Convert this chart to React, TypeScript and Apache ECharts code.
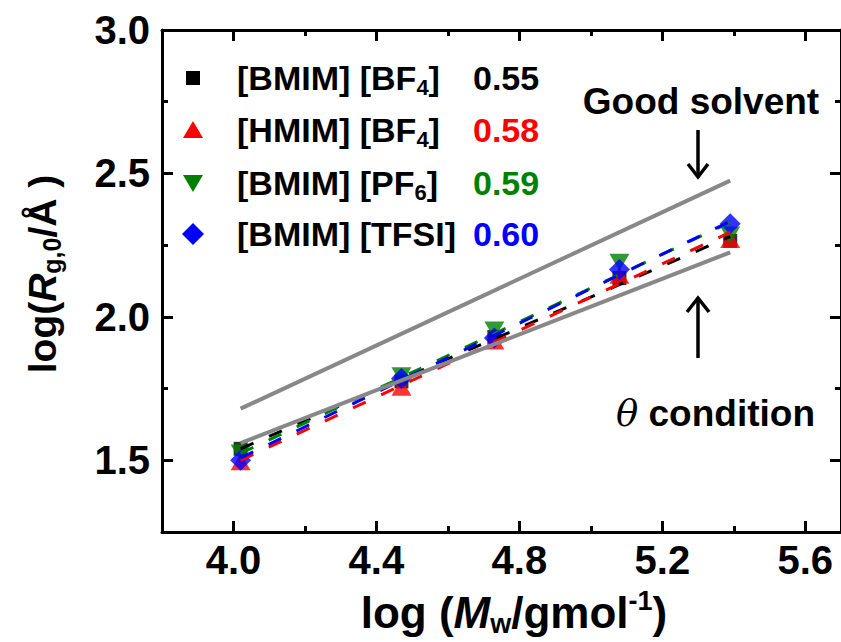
import React, { useEffect, useRef } from 'react';
import * as echarts from 'echarts';

// ---- axis ticks ----
const xMajor = [4.0, 4.4, 4.8, 5.2, 5.6];
const xMinor = [4.2, 4.6, 5.0, 5.4];
const yMajor = [1.5, 2.0, 2.5, 3.0];
const yMinor = [1.75, 2.25, 2.75];

// ---- data: log(Mw) and log(Rg,0) ----
const logMw = [4.02, 4.47, 4.73, 5.08, 5.39];
const bmimBF4 = [1.54, 1.775, 1.93, 2.135, 2.265];
const hmimBF4 = [1.495, 1.755, 1.916, 2.145, 2.27];
const bmimPF6 = [1.525, 1.795, 1.954, 2.19, 2.285];
const bmimTFSI = [1.5, 1.785, 1.926, 2.165, 2.325];

// ---- linear fits (end points) ----
const fitX = [4.02, 5.39];
const fitBMIMBF4 = [1.54, 2.28];
const fitHMIMBF4 = [1.5, 2.295];
const fitBMIMPF6 = [1.524, 2.33];
const fitBMIMTFSI = [1.508, 2.333];

// ---- reference lines ----
const refX = [4.02, 5.39];
const goodSolvent = [1.68, 2.475];
const thetaCond = [1.56, 2.225];

// ---- legend ----
const names = ['[BMIM] [BF4]', '[HMIM] [BF4]', '[BMIM] [PF6]', '[BMIM] [TFSI]'];
const exponents = ['0.55', '0.58', '0.59', '0.60'];
const colors = ['#000000', '#ff0000', '#008000', '#0000ff'];

const FONT = "'Liberation Sans', Arial, Helvetica, sans-serif";

const pairs = (xs: number[], ys: number[]) => xs.map((x, i) => [x, ys[i]]);

export default function App() {
  const ref = useRef<HTMLDivElement>(null);
  useEffect(() => {
    document.body.style.margin = '0';
    const chart = echarts.init(ref.current!, undefined, { renderer: 'svg' });
    const axisBase = (min: number, max: number) => ({
      type: 'value' as const,
      min,
      max,
      splitLine: { show: false },
    });
    const tickStyle = { color: '#000', width: 3 };
    const labelStyle = {
      color: '#000',
      fontFamily: FONT,
      fontWeight: 'bold',
      fontSize: 40,
    };
    const xAxes = [
      {
        ...axisBase(3.8, 5.7),
        position: 'bottom',
        axisLine: { show: true, onZero: false, lineStyle: tickStyle },
        axisTick: { show: true, inside: true, length: 11, customValues: xMajor, lineStyle: tickStyle },
        axisLabel: {
          show: true,
          customValues: xMajor,
          formatter: (v: number) => v.toFixed(1),
          ...labelStyle,
          margin: 8,
        },
      },
      {
        ...axisBase(3.8, 5.7),
        position: 'bottom',
        axisLine: { show: false },
        axisTick: { show: true, inside: true, length: 6, customValues: xMinor, lineStyle: tickStyle },
        axisLabel: { show: false },
      },
      {
        ...axisBase(3.8, 5.7),
        position: 'top',
        axisLine: { show: true, onZero: false, lineStyle: tickStyle },
        axisTick: { show: true, inside: true, length: 11, customValues: xMajor, lineStyle: tickStyle },
        axisLabel: { show: false },
      },
      {
        ...axisBase(3.8, 5.7),
        position: 'top',
        axisLine: { show: false },
        axisTick: { show: true, inside: true, length: 6, customValues: xMinor, lineStyle: tickStyle },
        axisLabel: { show: false },
      },
    ];
    const yAxes = [
      {
        ...axisBase(1.25, 3.0),
        position: 'left',
        axisLine: { show: true, onZero: false, lineStyle: tickStyle },
        axisTick: { show: true, inside: true, length: 11, customValues: yMajor, lineStyle: tickStyle },
        axisLabel: {
          show: true,
          customValues: yMajor,
          formatter: (v: number) => v.toFixed(1),
          ...labelStyle,
          margin: 12,
        },
      },
      {
        ...axisBase(1.25, 3.0),
        position: 'left',
        axisLine: { show: false },
        axisTick: { show: true, inside: true, length: 6, customValues: yMinor, lineStyle: tickStyle },
        axisLabel: { show: false },
      },
      {
        ...axisBase(1.25, 3.0),
        position: 'right',
        axisLine: { show: true, onZero: false, lineStyle: tickStyle },
        axisTick: { show: true, inside: true, length: 11, customValues: yMajor, lineStyle: tickStyle },
        axisLabel: { show: false },
      },
      {
        ...axisBase(1.25, 3.0),
        position: 'right',
        axisLine: { show: false },
        axisTick: { show: true, inside: true, length: 6, customValues: yMinor, lineStyle: tickStyle },
        axisLabel: { show: false },
      },
    ];

    const scatterDefs = [
      { name: names[0], data: bmimBF4, symbol: 'rect', size: [14, 14], rotate: 0 },
      { name: names[1], data: hmimBF4, symbol: 'triangle', size: [20, 17], rotate: 0 },
      { name: names[2], data: bmimPF6, symbol: 'triangle', size: [20, 17], rotate: 180 },
      { name: names[3], data: bmimTFSI, symbol: 'diamond', size: [21, 21], rotate: 0 },
    ];
    const fits = [fitBMIMBF4, fitHMIMBF4, fitBMIMPF6, fitBMIMTFSI];

    const series: any[] = [];
    scatterDefs.forEach((d, i) => {
      series.push({
        type: 'scatter',
        name: d.name,
        data: pairs(logMw, d.data),
        symbol: d.symbol,
        symbolSize: d.size,
        symbolRotate: d.rotate,
        itemStyle: { color: colors[i] },
        z: 2 + i * 0.01,
      });
    });
    fits.forEach((f, i) => {
      series.push({
        type: 'line',
        name: names[i] + ' fit',
        data: pairs(fitX, f),
        symbol: 'none',
        lineStyle: { color: colors[i], width: 3, type: [14, 17] },
        z: 3,
      });
    });
    series.push({
      type: 'line',
      name: 'Good solvent',
      data: pairs(refX, goodSolvent),
      symbol: 'none',
      lineStyle: { color: '#888888', width: 4 },
      z: 4,
    });
    series.push({
      type: 'line',
      name: 'theta condition',
      data: pairs(refX, thetaCond),
      symbol: 'none',
      lineStyle: { color: '#888888', width: 4 },
      z: 4,
    });

    const legendY = [78, 130, 183, 234];
    const subs = ['4', '4', '6', ''];
    const baseNames = ['[BMIM] [BF', '[HMIM] [BF', '[BMIM] [PF', '[BMIM] [TFSI]'];
    const richMain = {
      a: { fontFamily: FONT, fontWeight: 'bold', fontSize: 34, lineHeight: 40, fill: '#000' },
      s: { fontFamily: FONT, fontWeight: 'bold', fontSize: 22, lineHeight: 22, verticalAlign: 'bottom', fill: '#000' },
    };
    const graphic: any[] = [];
    // legend markers
    graphic.push({ type: 'rect', shape: { x: 186, y: legendY[0] - 7, width: 14, height: 14 }, style: { fill: colors[0] } });
    graphic.push({
      type: 'polygon',
      shape: { points: [[183, legendY[1] + 8], [203, legendY[1] + 8], [193, legendY[1] - 9]] },
      style: { fill: colors[1] },
    });
    graphic.push({
      type: 'polygon',
      shape: { points: [[183, legendY[2] - 8], [203, legendY[2] - 8], [193, legendY[2] + 9]] },
      style: { fill: colors[2] },
    });
    graphic.push({
      type: 'polygon',
      shape: { points: [[193, legendY[3] - 11], [204, legendY[3]], [193, legendY[3] + 11], [182, legendY[3]]] },
      style: { fill: colors[3] },
    });
    legendY.forEach((y, i) => {
      const txt = subs[i] ? `{a|${baseNames[i]}}{s|${subs[i]}}{a|]}` : `{a|${baseNames[i]}}`;
      graphic.push({
        type: 'text',
        x: 237,
        y,
        style: { text: txt, rich: richMain, textAlign: 'left', textVerticalAlign: 'middle' },
      });
      graphic.push({
        type: 'text',
        x: 473,
        y,
        style: {
          text: exponents[i],
          fill: colors[i],
          fontFamily: FONT,
          fontWeight: 'bold',
          fontSize: 34,
          textAlign: 'left',
          textVerticalAlign: 'middle',
        },
      });
    });

    // annotations
    graphic.push({
      type: 'text',
      x: 701,
      y: 101,
      style: {
        text: 'Good solvent',
        fill: '#000',
        fontFamily: FONT,
        fontWeight: 'bold',
        fontSize: 37,
        textAlign: 'center',
        textVerticalAlign: 'middle',
      },
    });
    graphic.push({ type: 'line', shape: { x1: 698, y1: 130, x2: 698, y2: 176 }, style: { stroke: '#000', lineWidth: 3.5 } });
    graphic.push({
      type: 'polyline',
      shape: { points: [[688, 164], [698, 177], [708, 164]] },
      style: { stroke: '#000', lineWidth: 3.5, fill: null },
    });
    graphic.push({ type: 'line', shape: { x1: 698, y1: 300, x2: 698, y2: 358 }, style: { stroke: '#000', lineWidth: 3.5 } });
    graphic.push({
      type: 'polyline',
      shape: { points: [[687, 312], [698, 298], [709, 312]] },
      style: { stroke: '#000', lineWidth: 3.5, fill: null },
    });
    graphic.push({
      type: 'text',
      x: 616,
      y: 413,
      style: {
        text: '{t|θ}{c| condition}',
        rich: {
          t: { fontFamily: "'DejaVu Serif', 'Liberation Serif', serif", fontStyle: 'italic', fontSize: 37, fill: '#000' },
          c: { fontFamily: FONT, fontWeight: 'bold', fontSize: 37, fill: '#000' },
        },
        textAlign: 'left',
        textVerticalAlign: 'middle',
      },
    });

    // axis titles
    graphic.push({
      type: 'text',
      x: 42,
      y: 274,
      rotation: Math.PI / 2,
      style: {
        text: '{a|log(}{i|R}{s|g,0}{a|/Å )}',
        rich: {
          a: { fontFamily: FONT, fontWeight: 'bold', fontSize: 39, lineHeight: 44, fill: '#000' },
          i: { fontFamily: FONT, fontWeight: 'bold', fontStyle: 'italic', fontSize: 39, lineHeight: 44, fill: '#000' },
          s: { fontFamily: FONT, fontWeight: 'bold', fontSize: 25, lineHeight: 25, verticalAlign: 'bottom', fill: '#000' },
        },
        textAlign: 'center',
        textVerticalAlign: 'middle',
      },
    });
    graphic.push({
      type: 'text',
      x: 514,
      y: 612,
      style: {
        text: '{a|log (}{i|M}{s|w}{a|/gmol}{p|-1}{a|)}',
        rich: {
          a: { fontFamily: FONT, fontWeight: 'bold', fontSize: 44, lineHeight: 50, fill: '#000' },
          i: { fontFamily: FONT, fontWeight: 'bold', fontStyle: 'italic', fontSize: 44, lineHeight: 50, fill: '#000' },
          s: { fontFamily: FONT, fontWeight: 'bold', fontSize: 27, lineHeight: 27, verticalAlign: 'bottom', fill: '#000' },
          p: { fontFamily: FONT, fontWeight: 'bold', fontSize: 27, lineHeight: 27, verticalAlign: 'top', fill: '#000' },
        },
        textAlign: 'center',
        textVerticalAlign: 'middle',
      },
    });

    chart.setOption({
      animation: false,
      backgroundColor: '#ffffff',
      grid: { left: 162, top: 30, width: 681, height: 502 },
      xAxis: xAxes,
      yAxis: yAxes,
      series,
      graphic,
    });
    return () => chart.dispose();
  }, []);
  return <div ref={ref} style={{ width: 841, height: 642 }} />;
}
